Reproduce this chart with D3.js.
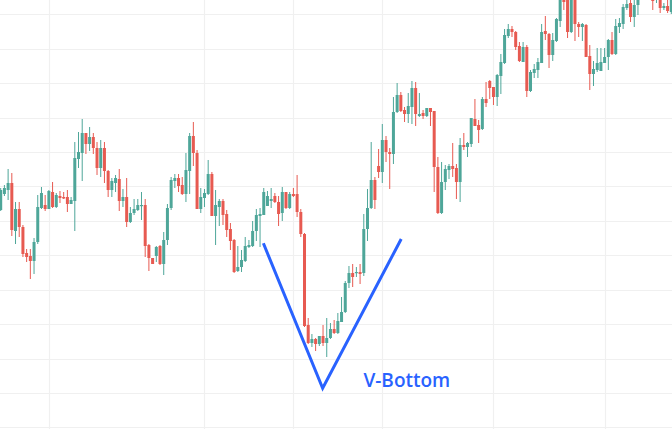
<!DOCTYPE html>
<html><head><meta charset="utf-8">
<script src="https://cdn.jsdelivr.net/npm/d3@7"></script>
<style>html,body{margin:0;padding:0;background:#fff;overflow:hidden}</style>
</head><body><svg id="c" width="672" height="429"></svg>
<script>
// OHLC values (arbitrary price units), one per candle
const opens = [
220,236,240,247,199,221,203,177,174,169,
188,222,225,221,238,223,234,233,233,226,
229,271,277,297,286,293,282,262,282,259,
240,247,251,229,233,208,217,220,224,225,
185,172,174,184,166,190,222,249,252,245,
236,259,294,277,221,232,236,256,214,223,
229,216,201,190,159,163,169,183,184,199,
214,215,224,229,234,228,217,238,222,236,
236,218,196,105,87,91,86,94,87,92,
101,97,108,118,147,157,157,158,157,201,
222,250,264,258,290,278,276,318,335,320,
316,323,342,314,317,314,322,319,263,217,
248,260,264,262,248,285,283,286,311,305,
301,331,349,343,333,354,367,394,401,398,
384,368,383,339,357,360,367,399,396,375,
389,409,440,435,398,442,406,403,405,374,
356,360,359,367,373,390,376,403,406,422,
427,413,425,435,445,436,438,431,435,422,
424,418];
const highs = [
242,245,261,257,228,228,205,181,181,192,
235,243,235,240,248,237,239,238,240,233,
288,298,311,297,303,297,288,290,288,260,
252,255,261,241,252,223,231,231,238,231,
186,172,184,185,198,226,253,256,256,253,
277,297,308,280,242,241,270,258,240,231,
231,220,207,191,184,180,193,190,209,221,
222,242,239,242,237,234,243,238,238,242,
255,221,197,112,96,92,94,105,112,107,
110,117,133,149,164,166,163,166,216,241,
288,253,281,306,294,282,333,347,338,323,
337,349,348,337,320,322,322,319,273,268,
265,266,287,266,292,297,288,312,331,310,
333,348,350,343,356,376,401,406,404,399,
388,388,385,360,366,372,406,414,397,397,
412,435,445,438,445,444,408,407,406,385,
369,382,382,382,391,398,411,412,426,430,
430,430,438,455,450,452,442,440,438,427,
430,434];
const lows = [
219,234,230,194,186,193,173,168,151,156,
186,221,219,221,222,222,227,231,218,226,
199,262,249,276,279,276,255,253,247,233,
233,238,219,223,203,207,215,219,210,173,
159,166,168,165,155,185,220,242,238,235,
228,236,264,221,217,223,235,214,185,204,
205,193,180,157,158,158,168,182,183,189,
183,215,224,222,227,204,209,221,221,233,
213,193,103,86,83,79,84,84,73,91,
96,96,108,117,142,143,153,146,154,189,
221,221,252,247,268,241,266,317,318,308,
307,306,304,313,311,313,304,238,216,216,
240,251,253,231,228,280,273,283,304,287,
300,323,331,325,324,336,366,392,393,380,
368,368,333,338,352,352,367,390,362,369,
388,403,420,392,397,389,393,389,373,340,
344,358,359,367,360,375,375,397,401,420,
408,403,415,432,431,432,420,427,417,420,
417,416];
const closes = [
240,242,247,200,221,203,176,173,169,188,
223,237,221,239,223,235,232,231.5,226,230,
272,278,297,286,293,282,262,282,259,240,
249,252,229,233,208,217,221,225,225,184,
172,166,183,166,190,222,250,252,244,236,
260,294,277,221,233,237,256,214,225,229,
215,200,189,158,163,170,184,185,199,215,
216,238,234,231,228,216,238,222,236,234,
218,196,104,87,91,86,94,87,92,101,
97,109,118,147,157,153,158,156,201,222,
250,230,258,290,278,276,318,335,319,316,
324,342,316,316,314,322,318,263,217,248,
261,264,261,248,285,283,287,312,304,300,
331,327,342,333,355,368,395,401,398,383,
369,383,339,358,361,368,398,396,375,390,
411,433,428,398,440,406,403,406,373,356,
361,367,368,373,390,376,404,407,423,426,
413,425,435,450,435,448,429,436,422,424,
419,432];

// grid ticks (price levels and candle indices)
const priceTicks = [2.6,37,71.4,105.8,140.3,174.7,209.1,243.6,278,312.4,346.8,381.3,415.7];
const timeTicks = [13,55,79,103,133,163];

// V-Bottom annotation anchors (candle index, price)
const vIdx = [70.9, 86.9, 108.1];
const vPrice = [186.7, 41.7, 191];
const labelText = "V-Bottom";
const labelIdx = 97.9, labelPrice = 42.7;

const W = 672, H = 429;
const UP = "#4ea699", DOWN = "#e75a51", BLUE = "#2962ff";

const x = d3.scaleLinear().domain([0, opens.length - 1]).range([0.7, 671.3]);
const y = d3.scaleLinear().domain([0, 430]).range([430, 0]);

const svg = d3.select("#c");

// grid
const grid = svg.append("g");
grid.selectAll("line.h").data(priceTicks).join("line")
  .attr("x1", 0).attr("x2", W)
  .attr("y1", d => Math.round(y(d)) + 0.5).attr("y2", d => Math.round(y(d)) + 0.5)
  .attr("stroke", "#f0f0f0").attr("stroke-width", 1.2);
grid.selectAll("line.v").data(timeTicks).join("line")
  .attr("y1", 0).attr("y2", H)
  .attr("x1", d => Math.round(x(d)) + 0.5).attr("x2", d => Math.round(x(d)) + 0.5)
  .attr("stroke", "#f0f0f0").attr("stroke-width", 1.2);

// candles
const data = opens.map((o, i) => ({i, o, h: highs[i], l: lows[i], c: closes[i]}));
const g = svg.append("g");
g.selectAll("line.w").data(data).join("line")
  .attr("x1", d => x(d.i)).attr("x2", d => x(d.i))
  .attr("y1", d => y(d.h)).attr("y2", d => y(d.l))
  .attr("stroke", d => d.c >= d.o ? UP : DOWN).attr("stroke-width", 1);
g.selectAll("rect").data(data).join("rect")
  .attr("x", d => x(d.i) - 1.5).attr("width", 3)
  .attr("y", d => y(Math.max(d.o, d.c)))
  .attr("height", d => Math.max(1.2, Math.abs(y(d.o) - y(d.c))))
  .attr("fill", d => d.c >= d.o ? UP : DOWN);

// V annotation
const vPts = vIdx.map((v, k) => [x(v), y(vPrice[k])]);
svg.append("path").attr("d", d3.line()(vPts))
  .attr("fill", "none").attr("stroke", BLUE).attr("stroke-width", 3)
  .attr("stroke-linejoin", "miter");

svg.append("text").attr("x", x(labelIdx)).attr("y", y(labelPrice))
  .attr("fill", BLUE).attr("font-family", "'Open Sans', sans-serif")
  .attr("font-weight", 600).attr("font-size", 19).text(labelText);
</script></body></html>
